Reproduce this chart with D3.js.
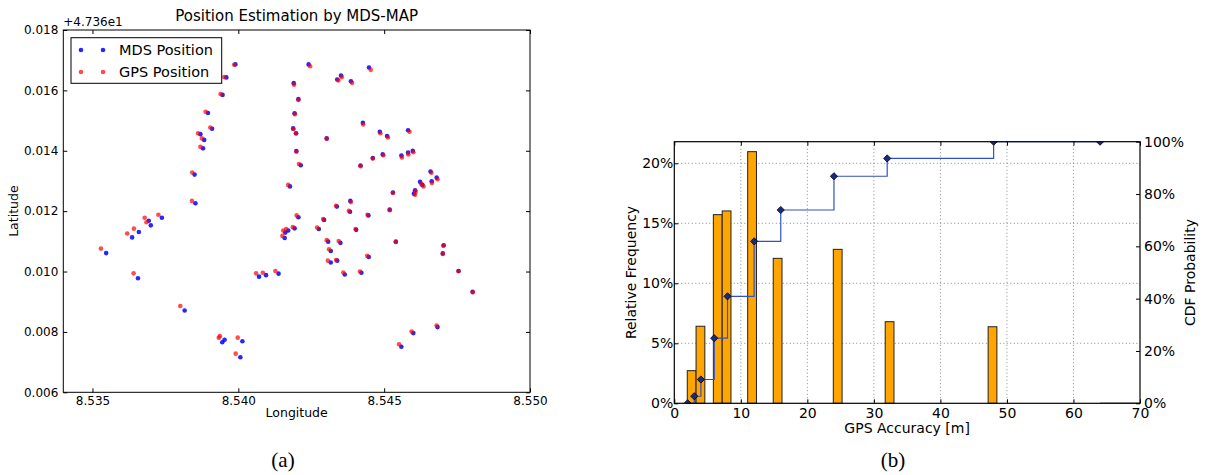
<!DOCTYPE html>
<html>
<head>
<meta charset="utf-8">
<script src="https://cdn.jsdelivr.net/npm/d3@7"></script>
<style>
  html, body { margin: 0; padding: 0; background: #fff; }
  svg { display: block; font-family: "DejaVu Sans", sans-serif; }
  text { fill: #000; }
  text.caption { font-family: "Liberation Serif", "DejaVu Serif", serif; }
</style>
</head>
<body>
<svg id="fig" width="1211" height="475"></svg>
<script>
// ---------- (a) Position Estimation by MDS-MAP ----------
// MDS-MAP estimated positions (longitude, latitude)
const mdsLon = [8.53990,8.53959,8.53946,8.53896,8.53910,8.53870,8.53883,8.53879,8.53850,8.53853,
  8.53738,8.53693,8.53700,8.53659,8.53636,8.53547,8.53656,8.53816,8.53945,8.53953,
  8.54014,8.54007,8.54071,8.54095,8.54138,8.54161,8.54171,8.54159,8.54193,8.54206,
  8.54190,8.54206,8.54193,8.54188,8.54198,8.54199,8.54214,8.54177,8.54241,8.54352,
  8.54339,8.54386,8.54448,8.54303,8.54427,8.54485,8.54510,8.54582,8.54419,8.54461,
  8.54495,8.54559,8.54582,8.54598,8.54659,8.54680,8.54623,8.54631,8.54663,8.54606,
  8.54602,8.54530,8.54519,8.54384,8.54338,8.54383,8.54446,8.54294,8.54276,8.54404,
  8.54308,8.54350,8.54540,8.54317,8.54447,8.54317,8.54339,8.54704,8.54701,8.54755,
  8.54803,8.54365,8.54422,8.54683,8.54600,8.54559];
const mdsLat = [47.37686,47.37643,47.37585,47.37525,47.37473,47.37455,47.37436,47.37408,47.37321,47.37226,
  47.37178,47.37168,47.37153,47.37131,47.37113,47.37061,47.36978,47.36871,47.36766,47.36774,
  47.36769,47.36716,47.36983,47.36988,47.36993,47.37129,47.37136,47.37111,47.37143,47.37180,
  47.37624,47.37571,47.37524,47.37474,47.37458,47.37399,47.37352,47.37282,47.37686,47.37649,
  47.37636,47.37630,47.37676,47.37441,47.37493,47.37463,47.37449,47.37468,47.37351,47.37376,
  47.37388,47.37384,47.37394,47.37400,47.37331,47.37311,47.37297,47.37287,47.37299,47.37269,
  47.37258,47.37262,47.37205,47.37234,47.37215,47.37198,47.37186,47.37171,47.37141,47.37138,
  47.37099,47.37095,47.37099,47.37068,47.37048,47.37030,47.37036,47.37087,47.37060,47.37002,
  47.36933,47.36990,47.36996,47.36816,47.36796,47.36751];
// GPS reference positions (longitude, latitude)
const gpsLon = [8.53986,8.53952,8.53939,8.53888,8.53904,8.53862,8.53875,8.53870,8.53842,8.53841,
  8.53726,8.53679,8.53685,8.53642,8.53619,8.53529,8.53641,8.53801,8.53933,8.53937,
  8.53998,8.53991,8.54061,8.54084,8.54127,8.54154,8.54164,8.54151,8.54187,8.54200,
  8.54191,8.54206,8.54194,8.54189,8.54198,8.54199,8.54208,8.54171,8.54246,8.54355,
  8.54343,8.54390,8.54454,8.54303,8.54428,8.54487,8.54513,8.54587,8.54419,8.54461,
  8.54497,8.54561,8.54583,8.54600,8.54662,8.54683,8.54627,8.54635,8.54664,8.54608,
  8.54606,8.54530,8.54519,8.54386,8.54335,8.54379,8.54443,8.54291,8.54270,8.54402,
  8.54303,8.54344,8.54540,8.54311,8.54442,8.54307,8.54335,8.54703,8.54701,8.54755,
  8.54804,8.54360,8.54417,8.54680,8.54594,8.54551];
const gpsLat = [47.37685,47.37644,47.37588,47.37529,47.37477,47.37458,47.37441,47.37413,47.37328,47.37234,
  47.37188,47.37178,47.37163,47.37142,47.37126,47.37076,47.36994,47.36886,47.36781,47.36786,
  47.36781,47.36728,47.36994,47.36996,47.37002,47.37136,47.37141,47.37118,47.37147,47.37186,
  47.37619,47.37568,47.37521,47.37472,47.37457,47.37397,47.37356,47.37287,47.37680,47.37644,
  47.37633,47.37625,47.37668,47.37440,47.37487,47.37458,47.37444,47.37463,47.37349,47.37374,
  47.37385,47.37378,47.37388,47.37395,47.37327,47.37306,47.37290,47.37282,47.37293,47.37264,
  47.37254,47.37260,47.37203,47.37230,47.37218,47.37201,47.37188,47.37174,47.37146,47.37141,
  47.37104,47.37101,47.37098,47.37074,47.37052,47.37036,47.37038,47.37085,47.37058,47.37001,
  47.36931,47.36997,47.37000,47.36821,47.36801,47.36759];
const lonTicks = [8.535, 8.540, 8.545, 8.550];
const latTicks = [47.366, 47.368, 47.370, 47.372, 47.374, 47.376, 47.378];
const latOffset = 47.36;
const scatterSeries = ["MDS Position", "GPS Position"];

// ---------- (b) GPS accuracy histogram and CDF ----------
const accValues = [3, 4, 6, 8, 12, 16, 24, 32, 48];            // accuracy class [m]
const binLeft   = [1.95, 3.27, 5.87, 7.20, 11.03, 14.87, 23.90, 31.70, 47.17];
const binWidth  = 1.32;
const relFreq   = [0.0272, 0.0642, 0.1572, 0.1603, 0.2097, 0.1208, 0.1283, 0.0680, 0.0638];
const cdfX      = [2, 3, 4, 6, 8, 12, 16, 24, 32, 48, 64];
const cdfY      = [0, 0.027, 0.091, 0.249, 0.409, 0.619, 0.739, 0.868, 0.936, 1.0, 1.0];
const tailX     = [64, 70];
const accTicks  = [0, 10, 20, 30, 40, 50, 60, 70];
const freqTicks = [0, 0.05, 0.10, 0.15, 0.20];
const probTicks = [0, 0.2, 0.4, 0.6, 0.8, 1.0];

const svg = d3.select("#fig");

function styleAxis(g, fontSize) {
  g.select(".domain").remove();
  g.selectAll(".tick line").attr("stroke", "#000").attr("stroke-width", 1);
  g.selectAll(".tick text").attr("font-size", fontSize).attr("fill", "#000")
    .attr("font-family", "DejaVu Sans, sans-serif");
}

// ===== Panel (a) =====
{
  const L = 63.3, R = 530, T = 30, B = 392.3;
  const x = d3.scaleLinear().domain([8.534, 8.550]).range([L, R]);
  const y = d3.scaleLinear().domain([47.366, 47.378]).range([B, T]);
  const g = svg.append("g");

  const fmtX = d3.format(".3f");
  const fmtY = v => (v - latOffset).toFixed(3);

  g.append("g").attr("transform", `translate(0,${B})`)
    .call(d3.axisBottom(x).tickValues(lonTicks).tickFormat(fmtX).tickSizeInner(-4).tickSizeOuter(0).tickPadding(4))
    .call(a => styleAxis(a, 12));
  g.append("g").attr("transform", `translate(0,${T})`)
    .call(d3.axisTop(x).tickValues(lonTicks).tickFormat("").tickSizeInner(-4).tickSizeOuter(0))
    .call(a => styleAxis(a, 12));
  g.append("g").attr("transform", `translate(${L},0)`)
    .call(d3.axisLeft(y).tickValues(latTicks).tickFormat(fmtY).tickSizeInner(-4).tickSizeOuter(0).tickPadding(5))
    .call(a => styleAxis(a, 12));
  g.append("g").attr("transform", `translate(${R},0)`)
    .call(d3.axisRight(y).tickValues(latTicks).tickFormat("").tickSizeInner(-4).tickSizeOuter(0))
    .call(a => styleAxis(a, 12));

  const clipId = "clipA";
  svg.append("clipPath").attr("id", clipId).append("rect")
    .attr("x", L).attr("y", T).attr("width", R - L).attr("height", B - T);

  const pts = g.append("g").attr("clip-path", `url(#${clipId})`);
  pts.selectAll("circle.mds").data(d3.range(mdsLon.length)).join("circle")
    .attr("class", "mds")
    .attr("cx", i => x(mdsLon[i])).attr("cy", i => y(mdsLat[i]))
    .attr("r", 2.3).attr("fill", "#0000ff").attr("fill-opacity", 0.85);
  pts.selectAll("circle.gps").data(d3.range(gpsLon.length)).join("circle")
    .attr("class", "gps")
    .attr("cx", i => x(gpsLon[i])).attr("cy", i => y(gpsLat[i]))
    .attr("r", 2.3).attr("fill", "#ff0000").attr("fill-opacity", 0.7);

  g.append("rect").attr("x", L).attr("y", T).attr("width", R - L).attr("height", B - T)
    .attr("fill", "none").attr("stroke", "#000").attr("stroke-width", 1);

  // offset note for latitude axis
  g.append("text").attr("x", L).attr("y", 26).attr("font-size", 12).text("+4.736e1");
  g.append("text").attr("x", (L + R) / 2).attr("y", 21).attr("text-anchor", "middle")
    .attr("font-size", 15).text("Position Estimation by MDS-MAP");
  g.append("text").attr("x", (L + R) / 2).attr("y", 417).attr("text-anchor", "middle")
    .attr("font-size", 12.5).text("Longitude");
  g.append("text").attr("transform", `translate(18,${(T + B) / 2}) rotate(-90)`)
    .attr("text-anchor", "middle").attr("font-size", 12.5).text("Latitude");

  // legend
  const lg = g.append("g");
  lg.append("rect").attr("x", 71).attr("y", 37.7).attr("width", 150.7).attr("height", 45.6)
    .attr("fill", "#fff").attr("stroke", "#000").attr("stroke-width", 1);
  const legColors = ["#0000ff", "#ff0000"];
  const legAlpha = [0.85, 0.7];
  scatterSeries.forEach((name, i) => {
    const cy = 50 + i * 22;
    [81, 103].forEach(cx => lg.append("circle").attr("cx", cx).attr("cy", cy).attr("r", 2.3)
      .attr("fill", legColors[i]).attr("fill-opacity", legAlpha[i]));
    lg.append("text").attr("x", 119).attr("y", cy + 5.3).attr("font-size", 14.5).text(name);
  });

  svg.append("text").attr("class", "caption").attr("x", 283).attr("y", 467).attr("text-anchor", "middle")
    .attr("font-size", 21).text("(a)");
}

// ===== Panel (b) =====
{
  const L = 674.3, R = 1140, T = 141.7, B = 403.3;
  const x = d3.scaleLinear().domain([0, 70]).range([L, R]);
  const yF = d3.scaleLinear().domain([0, 0.218]).range([B, T]);
  const yP = d3.scaleLinear().domain([0, 1]).range([B, T]);
  const g = svg.append("g");

  // dotted grid
  const grid = g.append("g").attr("stroke", "#8a8a8a").attr("stroke-width", 1).attr("stroke-dasharray", "1,2.5");
  grid.selectAll("line.v").data(accTicks.filter(t => t > 0 && t < 70)).join("line")
    .attr("x1", d => x(d)).attr("x2", d => x(d)).attr("y1", T).attr("y2", B);
  grid.selectAll("line.h").data(freqTicks.filter(t => t > 0)).join("line")
    .attr("x1", L).attr("x2", R).attr("y1", d => yF(d)).attr("y2", d => yF(d));

  // histogram bars
  g.selectAll("rect.bar").data(relFreq).join("rect").attr("class", "bar")
    .attr("x", (d, i) => x(binLeft[i])).attr("width", (d, i) => x(binLeft[i] + binWidth) - x(binLeft[i]))
    .attr("y", d => yF(d)).attr("height", d => B - yF(d))
    .attr("fill", "#ffa500").attr("stroke", "#222").attr("stroke-width", 1);

  const clipId = "clipB";
  svg.append("clipPath").attr("id", clipId).append("rect")
    .attr("x", L).attr("y", T).attr("width", R - L).attr("height", B - T);
  const cg = g.append("g").attr("clip-path", `url(#${clipId})`);

  cg.append("path").datum(tailX)
    .attr("d", d3.line().x(d => x(d)).y(() => yP(0)))
    .attr("fill", "none").attr("stroke", "#777").attr("stroke-width", 1.5);

  const cdfLine = d3.line().x((d, i) => x(cdfX[i])).y(d => yP(d)).curve(d3.curveStepAfter);
  cg.append("path").datum(cdfY).attr("d", cdfLine)
    .attr("fill", "none").attr("stroke", "#3050c8").attr("stroke-width", 1.2);
  const h = 3.6;
  cg.selectAll("path.mk").data(cdfY).join("path").attr("class", "mk")
    .attr("d", (d, i) => {
      const cx = x(cdfX[i]), cy = yP(d);
      return `M${cx},${cy - h}L${cx + h},${cy}L${cx},${cy + h}L${cx - h},${cy}Z`;
    })
    .attr("fill", "#1a2a80").attr("stroke", "#000").attr("stroke-width", 0.8);

  g.append("rect").attr("x", L).attr("y", T).attr("width", R - L).attr("height", B - T)
    .attr("fill", "none").attr("stroke", "#000").attr("stroke-width", 1.2);

  const fmtPct = d3.format(".0%");
  g.append("g").attr("transform", `translate(0,${B})`)
    .call(d3.axisBottom(x).tickValues(accTicks).tickFormat(d3.format("d")).tickSizeInner(-4).tickSizeOuter(0).tickPadding(5))
    .call(a => styleAxis(a, 14));
  g.append("g").attr("transform", `translate(0,${T})`)
    .call(d3.axisTop(x).tickValues(accTicks).tickFormat("").tickSizeInner(-4).tickSizeOuter(0))
    .call(a => styleAxis(a, 14));
  g.append("g").attr("transform", `translate(${L},0)`)
    .call(d3.axisLeft(yF).tickValues(freqTicks).tickFormat(fmtPct).tickSizeInner(-4).tickSizeOuter(0).tickPadding(1))
    .call(a => styleAxis(a, 14));
  g.append("g").attr("transform", `translate(${R},0)`)
    .call(d3.axisRight(yP).tickValues(probTicks).tickFormat(fmtPct).tickSizeInner(-4).tickSizeOuter(0).tickPadding(4))
    .call(a => styleAxis(a, 14));

  g.append("text").attr("x", (L + R) / 2).attr("y", 433).attr("text-anchor", "middle")
    .attr("font-size", 14).text("GPS Accuracy [m]");
  g.append("text").attr("transform", `translate(636,${(T + B) / 2}) rotate(-90)`)
    .attr("text-anchor", "middle").attr("font-size", 14).text("Relative Frequency");
  g.append("text").attr("transform", `translate(1195,${(T + B) / 2}) rotate(-90)`)
    .attr("text-anchor", "middle").attr("font-size", 14).text("CDF Probability");

  svg.append("text").attr("class", "caption").attr("x", 893).attr("y", 467).attr("text-anchor", "middle")
    .attr("font-size", 21).text("(b)");
}
</script>
</body>
</html>
